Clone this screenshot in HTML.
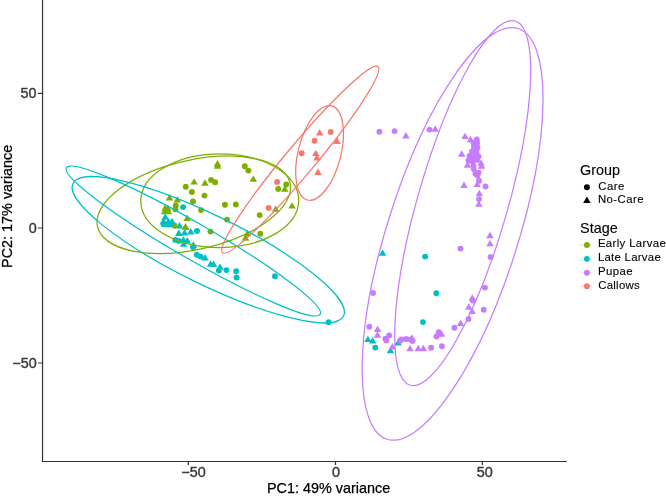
<!DOCTYPE html>
<html><head><meta charset="utf-8"><style>html,body{margin:0;padding:0;background:#fff;}svg{display:block;will-change:transform;}text{font-family:"Liberation Sans",sans-serif;stroke-width:0.25px;}text.tk{stroke-width:0.4px;}text.lg{stroke-width:0.12px;}text.lt{stroke-width:0.12px;}</style></head><body>
<svg width="666" height="498" viewBox="0 0 666 498">
<rect width="666" height="498" fill="#fff"/>
<g fill="#7CAE00">
<circle cx="244.8" cy="166.3" r="2.95"/>
<circle cx="248.4" cy="170.6" r="2.95"/>
<circle cx="286.2" cy="184.5" r="2.95"/>
<circle cx="278.2" cy="188.9" r="2.95"/>
<circle cx="185.8" cy="186.8" r="2.95"/>
<circle cx="191.9" cy="192" r="2.95"/>
<circle cx="193" cy="201.5" r="2.95"/>
<circle cx="211.1" cy="179.9" r="2.95"/>
<circle cx="215.1" cy="182.3" r="2.95"/>
<circle cx="204.5" cy="195.6" r="2.95"/>
<circle cx="224.9" cy="204.7" r="2.95"/>
<circle cx="235.8" cy="204.5" r="2.95"/>
<circle cx="201" cy="210.1" r="2.95"/>
<circle cx="227" cy="219.6" r="2.95"/>
<circle cx="259.7" cy="215.1" r="2.95"/>
<circle cx="260.3" cy="233.8" r="2.95"/>
<circle cx="210.5" cy="231.6" r="2.95"/>
<circle cx="175.8" cy="205.5" r="2.95"/>
<circle cx="175.4" cy="209.2" r="2.95"/>
<circle cx="174.6" cy="225.8" r="2.95"/>
<path d="M194.1 178.2L197.85 184.6L190.35 184.6ZM217.5 160L221.25 166.4L213.75 166.4ZM217.5 162.4L221.25 168.8L213.75 168.8ZM205 179.3L208.75 185.7L201.25 185.7ZM253.3 175.4L257.05 181.8L249.55 181.8ZM284.8 185.4L288.55 191.8L281.05 191.8ZM275.7 205.4L279.45 211.8L271.95 211.8ZM292 202.2L295.75 208.6L288.25 208.6ZM247.3 230.1L251.05 236.5L243.55 236.5ZM245.5 234.3L249.25 240.7L241.75 240.7ZM169.5 194.1L173.25 200.5L165.75 200.5ZM177.4 196.1L181.15 202.5L173.65 202.5ZM187.2 214.6L190.95 221L183.45 221ZM185.5 223.3L189.25 229.7L181.75 229.7ZM165.2 204.3L168.95 210.7L161.45 210.7ZM168 205L171.75 211.4L164.25 211.4ZM164.5 207.8L168.25 214.2L160.75 214.2ZM168.2 207.8L171.95 214.2L164.45 214.2Z"/>
</g>
<g fill="#00BFC4">
<circle cx="183.1" cy="207.1" r="2.95"/>
<circle cx="197" cy="231" r="2.95"/>
<circle cx="175.3" cy="239.9" r="2.95"/>
<circle cx="178.9" cy="240.9" r="2.95"/>
<circle cx="193.1" cy="247.2" r="2.95"/>
<circle cx="196.8" cy="254.8" r="2.95"/>
<circle cx="200.5" cy="256.6" r="2.95"/>
<circle cx="218.9" cy="270.5" r="2.95"/>
<circle cx="226.4" cy="270.1" r="2.95"/>
<circle cx="236.2" cy="271.3" r="2.95"/>
<circle cx="236.6" cy="277.5" r="2.95"/>
<circle cx="275" cy="276.3" r="2.95"/>
<circle cx="328.6" cy="322.2" r="2.95"/>
<circle cx="425.1" cy="256.6" r="2.95"/>
<circle cx="436.3" cy="293.3" r="2.95"/>
<circle cx="423" cy="322.1" r="2.95"/>
<circle cx="375.3" cy="347.6" r="2.95"/>
<circle cx="163.5" cy="224.3" r="2.95"/>
<circle cx="167.5" cy="224.5" r="2.95"/>
<circle cx="170.3" cy="224.4" r="2.95"/>
<path d="M178.8 229.5L182.55 235.9L175.05 235.9ZM184.6 229L188.35 235.4L180.85 235.4ZM190.8 228L194.55 234.4L187.05 234.4ZM179.5 222.1L183.25 228.5L175.75 228.5ZM183.4 236.1L187.15 242.5L179.65 242.5ZM187.3 237.1L191.05 243.5L183.55 243.5ZM183.6 240.4L187.35 246.8L179.85 246.8ZM193.4 241.3L197.15 247.7L189.65 247.7ZM205 254L208.75 260.4L201.25 260.4ZM210.6 260.3L214.35 266.7L206.85 266.7ZM213.6 260.5L217.35 266.9L209.85 266.9ZM220 263.4L223.75 269.8L216.25 269.8ZM382.6 249.3L386.35 255.7L378.85 255.7ZM367.9 335.7L371.65 342.1L364.15 342.1ZM372.7 337.1L376.45 343.5L368.95 343.5ZM390.5 346.8L394.25 353.2L386.75 353.2ZM398 339.1L401.75 345.5L394.25 345.5ZM165.2 213.3L168.95 219.7L161.45 219.7ZM163.5 217.6L167.25 224L159.75 224ZM168.5 217.8L172.25 224.2L164.75 224.2ZM172 217.7L175.75 224.1L168.25 224.1Z"/>
</g>
<g fill="#C77CFF">
<circle cx="379.4" cy="131.8" r="2.95"/>
<circle cx="394.6" cy="131.1" r="2.95"/>
<circle cx="429.5" cy="129.6" r="2.95"/>
<circle cx="476.8" cy="139.4" r="2.95"/>
<circle cx="479" cy="180.8" r="2.95"/>
<circle cx="485.5" cy="186.5" r="2.95"/>
<circle cx="479" cy="199.1" r="2.95"/>
<circle cx="460.5" cy="248.6" r="2.95"/>
<circle cx="490.6" cy="257" r="2.95"/>
<circle cx="484.9" cy="287.6" r="2.95"/>
<circle cx="472.8" cy="300.5" r="2.95"/>
<circle cx="483.7" cy="309.7" r="2.95"/>
<circle cx="468.5" cy="319" r="2.95"/>
<circle cx="454.4" cy="327.7" r="2.95"/>
<circle cx="438.7" cy="332.3" r="2.95"/>
<circle cx="436.5" cy="336.5" r="2.95"/>
<circle cx="431.1" cy="347.8" r="2.95"/>
<circle cx="441.9" cy="346.2" r="2.95"/>
<circle cx="401.5" cy="339.5" r="2.95"/>
<circle cx="406" cy="339" r="2.95"/>
<circle cx="410.5" cy="339.5" r="2.95"/>
<circle cx="412.5" cy="341" r="2.95"/>
<circle cx="400" cy="340.8" r="2.95"/>
<circle cx="389.2" cy="335.5" r="2.95"/>
<circle cx="385.5" cy="338.7" r="2.95"/>
<circle cx="386.4" cy="340.4" r="2.95"/>
<circle cx="369.3" cy="326.7" r="2.95"/>
<circle cx="373.1" cy="293" r="2.95"/>
<circle cx="473.5" cy="143" r="2.95"/>
<circle cx="477" cy="143" r="2.95"/>
<circle cx="474" cy="147" r="2.95"/>
<circle cx="477.5" cy="147.5" r="2.95"/>
<circle cx="472" cy="151.5" r="2.95"/>
<circle cx="476.5" cy="152" r="2.95"/>
<circle cx="469.5" cy="156" r="2.95"/>
<circle cx="474" cy="157" r="2.95"/>
<circle cx="478.5" cy="156.5" r="2.95"/>
<circle cx="468.5" cy="160.5" r="2.95"/>
<circle cx="472" cy="161" r="2.95"/>
<circle cx="477" cy="160" r="2.95"/>
<circle cx="473.5" cy="165.5" r="2.95"/>
<circle cx="473.7" cy="169" r="2.95"/>
<circle cx="478.5" cy="172.6" r="2.95"/>
<circle cx="475.5" cy="173.8" r="2.95"/>
<circle cx="477.5" cy="175.5" r="2.95"/>
<path d="M405.9 132.1L409.65 138.5L402.15 138.5ZM435.2 125.3L438.95 131.7L431.45 131.7ZM465 132.7L468.75 139.1L461.25 139.1ZM470.5 135.8L474.25 142.2L466.75 142.2ZM461.7 150.3L465.45 156.7L457.95 156.7ZM477.2 180.7L480.95 187.1L473.45 187.1ZM464 181.6L467.75 188L460.25 188ZM479.3 189.8L483.05 196.2L475.55 196.2ZM478.8 200.3L482.55 206.7L475.05 206.7ZM490 231.8L493.75 238.2L486.25 238.2ZM490 239.9L493.75 246.3L486.25 246.3ZM472.3 294.3L476.05 300.7L468.55 300.7ZM468.8 303.3L472.55 309.7L465.05 309.7ZM472.1 307.6L475.85 314L468.35 314ZM460.6 319.7L464.35 326.1L456.85 326.1ZM441.5 330.3L445.25 336.7L437.75 336.7ZM418.2 344.8L421.95 351.2L414.45 351.2ZM423.4 344.8L427.15 351.2L419.65 351.2ZM410 344.8L413.75 351.2L406.25 351.2ZM412 334.3L415.75 340.7L408.25 340.7ZM392.4 343L396.15 349.4L388.65 349.4ZM377.5 325.5L381.25 331.9L373.75 331.9ZM377.5 331.3L381.25 337.7L373.75 337.7ZM481 159.3L484.75 165.7L477.25 165.7ZM467.5 161.3L471.25 167.7L463.75 167.7ZM481.5 162.3L485.25 168.7L477.75 168.7Z"/>
</g>
<g fill="#F8766D">
<circle cx="277.1" cy="181.9" r="2.95"/>
<circle cx="268.6" cy="207.9" r="2.95"/>
<circle cx="301.7" cy="153.3" r="2.95"/>
<circle cx="314.6" cy="140.8" r="2.95"/>
<circle cx="330.7" cy="131.9" r="2.95"/>
<path d="M319.7 129.1L323.45 135.5L315.95 135.5ZM337.1 137.6L340.85 144L333.35 144ZM315.8 149.7L319.55 156.1L312.05 156.1ZM316.9 154.2L320.65 160.6L313.15 160.6ZM318 168.5L321.75 174.9L314.25 174.9Z"/>
</g>
<path d="M185.5 223.3L189.25 229.7L181.75 229.7Z" fill="#7CAE00"/>
<g fill="none" stroke-width="1.25">
<ellipse cx="193.79" cy="204.82" rx="44.63" ry="98.7" transform="rotate(77.23 193.79 204.82)" stroke="#7CAE00"/>
<ellipse cx="219.74" cy="200.68" rx="46.9" ry="78.95" transform="rotate(89.81 219.74 200.68)" stroke="#7CAE00"/>
<ellipse cx="193.28" cy="241" rx="17.98" ry="146.5" transform="rotate(120.02 193.28 241)" stroke="#00BFC4"/>
<ellipse cx="208.27" cy="249.73" rx="34.35" ry="150.66" transform="rotate(116.12 208.27 249.73)" stroke="#00BFC4"/>
<ellipse cx="462.7" cy="203.14" rx="44.98" ry="189.55" transform="rotate(-163.92 462.7 203.14)" stroke="#C77CFF"/>
<ellipse cx="452.59" cy="233.89" rx="65.29" ry="215.59" transform="rotate(-162.28 452.59 233.89)" stroke="#C77CFF"/>
<ellipse cx="300.29" cy="159.69" rx="121.23" ry="14.74" transform="rotate(-50.12 300.29 159.69)" stroke="#F8766D"/>
<ellipse cx="319.58" cy="152.99" rx="48.56" ry="21.29" transform="rotate(-75.55 319.58 152.99)" stroke="#F8766D"/>
</g>
<path d="M42.55 0V461.5H566.8" fill="none" stroke="#333333" stroke-width="1.2" stroke-linecap="butt"/>
<path d="M188.3 461.5V464.9M335.5 461.5V464.9M482.3 461.5V464.9M42.55 93.3H37.95M42.55 228H37.95M42.55 363H37.95" stroke="#333333" stroke-width="1.2"/>
<text class="tk" x="181.37" y="476.6" font-size="14.4" fill="#3a3a3a" stroke="#3a3a3a">−50</text>
<text class="tk" x="331.9" y="476.6" font-size="14.4" fill="#3a3a3a" stroke="#3a3a3a">0</text>
<text class="tk" x="476.82" y="476.6" font-size="14.4" fill="#3a3a3a" stroke="#3a3a3a">50</text>
<text class="tk" x="20.62" y="97.8" font-size="14.4" fill="#3a3a3a" stroke="#3a3a3a">50</text>
<text class="tk" x="28.68" y="232.5" font-size="14.4" fill="#3a3a3a" stroke="#3a3a3a">0</text>
<text class="tk" x="12.27" y="367.6" font-size="14.4" fill="#3a3a3a" stroke="#3a3a3a">−50</text>
<text x="266.97" y="492.8" font-size="14.4" fill="#000" stroke="#000">PC1: 49% variance</text>
<text transform="translate(11.8 267.88) rotate(-90)" font-size="14.4" fill="#000" stroke="#000">PC2: 17% variance</text>
<text class="lt" x="579.98" y="174.6" font-size="14.4" fill="#000" stroke="#000">Group</text>
<text class="lt" x="580.05" y="232.6" font-size="14.4" fill="#000" stroke="#000">Stage</text>
<circle cx="586.9" cy="187.2" r="2.95" fill="#000"/>
<path d="M586.9 196.6L590.65 203L583.15 203Z" fill="#000"/>
<text class="lg" x="598.23" y="189.6" font-size="11.4" fill="#000" stroke="#000" letter-spacing="0.51">Care</text>
<text class="lg" x="597.89" y="203.3" font-size="11.4" fill="#000" stroke="#000" letter-spacing="0.44">No-Care</text>
<line x1="580.2" x2="592.0" y1="245" y2="245" stroke="#7CAE00" stroke-width="1" stroke-opacity="0.3"/>
<circle cx="586.9" cy="245" r="2.95" fill="#7CAE00"/>
<text class="lg" x="597.89" y="247.45" font-size="11.4" fill="#000" stroke="#000" letter-spacing="0.36">Early Larvae</text>
<line x1="580.2" x2="592.0" y1="258.85" y2="258.85" stroke="#00BFC4" stroke-width="1" stroke-opacity="0.3"/>
<circle cx="586.9" cy="258.85" r="2.95" fill="#00BFC4"/>
<text class="lg" x="597.89" y="261.3" font-size="11.4" fill="#000" stroke="#000" letter-spacing="0.27">Late Larvae</text>
<line x1="580.2" x2="592.0" y1="272.8" y2="272.8" stroke="#C77CFF" stroke-width="1" stroke-opacity="0.3"/>
<circle cx="586.9" cy="272.8" r="2.95" fill="#C77CFF"/>
<text class="lg" x="597.89" y="275.25" font-size="11.4" fill="#000" stroke="#000" letter-spacing="0.47">Pupae</text>
<line x1="580.2" x2="592.0" y1="286.2" y2="286.2" stroke="#F8766D" stroke-width="1" stroke-opacity="0.3"/>
<circle cx="586.9" cy="286.2" r="2.95" fill="#F8766D"/>
<text class="lg" x="598.23" y="288.65" font-size="11.4" fill="#000" stroke="#000" letter-spacing="0.26">Callows</text>
</svg></body></html>
